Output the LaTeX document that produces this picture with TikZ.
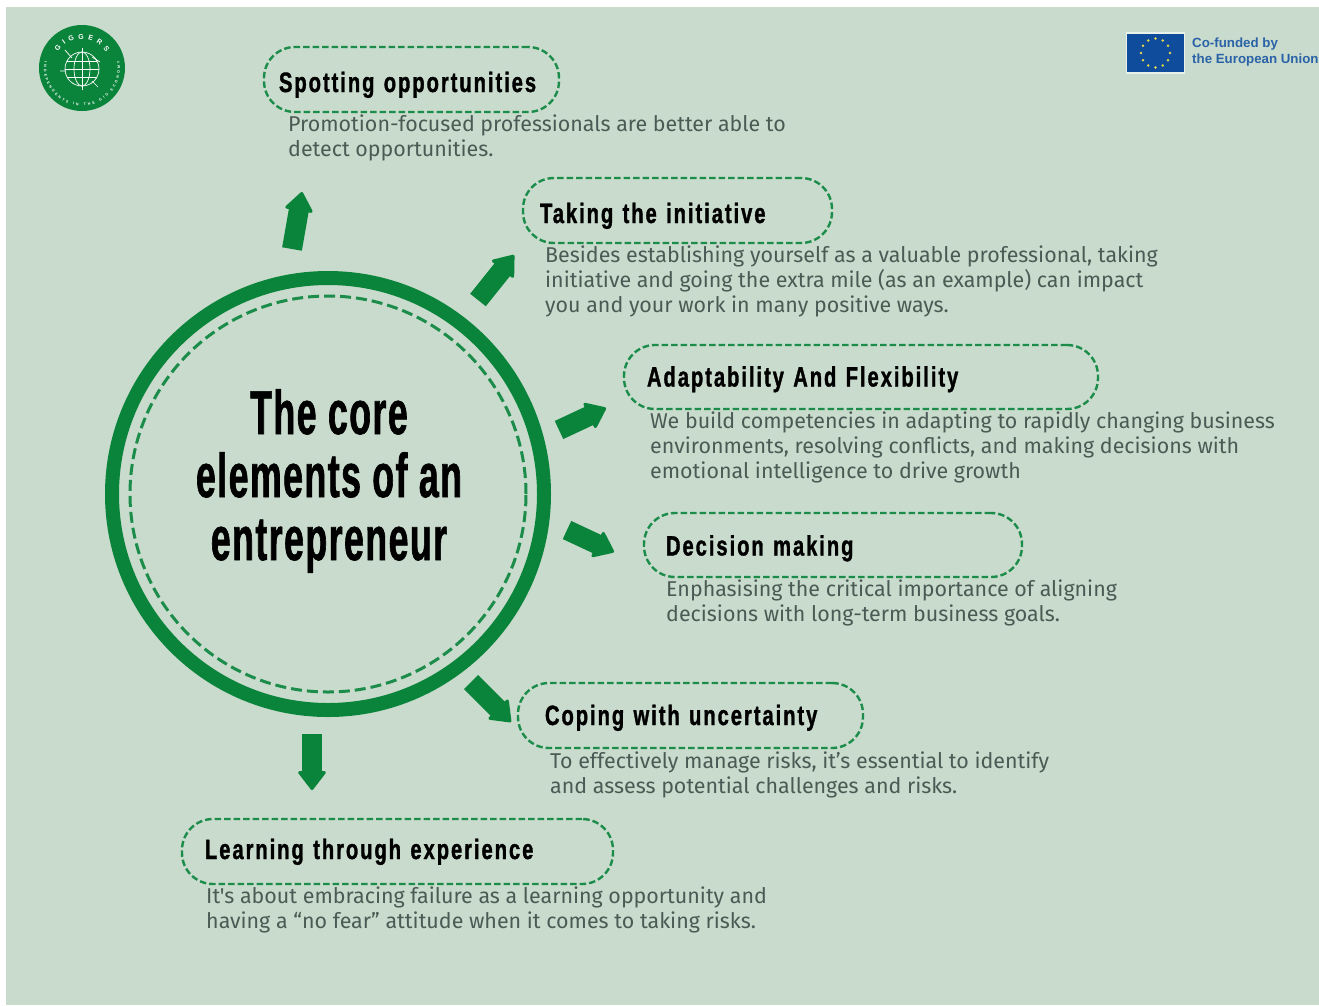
\documentclass[tikz,border=0pt]{standalone}
\usepackage{fontspec}
\usetikzlibrary{arrows.meta,decorations.text,calc}
\setmainfont{Fira Sans}
\newfontfamily\condfont[FakeStretch=0.72,UprightFont=* Bold,LetterSpace=7,FakeBold=1.2]{Liberation Sans}
\newfontfamily\condbig[FakeStretch=0.575,UprightFont=* Bold,LetterSpace=2.4,FakeBold=1]{Liberation Sans}
\newfontfamily\bodyfont{Fira Sans}
\newfontfamily\eufont[UprightFont=* Bold]{Liberation Sans}
\definecolor{bgc}{HTML}{C8DBCC}
\definecolor{grn}{HTML}{0A843B}
\definecolor{dashc}{HTML}{1B8C4A}
\definecolor{bodyc}{HTML}{4C5A55}
\definecolor{eub}{HTML}{0F4C9C}
\definecolor{euy}{HTML}{E6D94A}
\definecolor{eut}{HTML}{2A62A8}
\tikzset{
  pillbox/.style={draw=dashc,line width=2.4pt,dash pattern=on 6.5pt off 3pt,rounded corners=31pt,
    minimum height=#1,inner ysep=0pt,align=left,text=black,text height=30pt,
    font=\condfont\fontsize{28}{30}\selectfont},
  bodytext/.style={anchor=north west,inner sep=0pt,align=left,text=bodyc,
    font=\bodyfont\fontsize{21.42}{25}\selectfont},
  blockarrow/.style={draw=grn,fill=none,line width=20pt,line cap=butt,
    -{Triangle[length=20pt,width=30pt,line width=3pt,round,color=grn,fill=grn]}},
  euline/.style={anchor=west,inner sep=0pt,text=eut,font=\eufont\fontsize{13.3}{14}\selectfont},
}
% \pillnode{name}{x1}{y1}{x2}{y2}{inset}{text depth}{title}
\newcommand{\pillnode}[8]{%
  \pgfmathsetmacro{\pw}{#4-#2}\pgfmathsetmacro{\ph}{#5-#3}%
  \pgfmathsetmacro{\pcx}{(#2+#4)/2}\pgfmathsetmacro{\pcy}{(#3+#5)/2}%
  \pgfmathsetmacro{\ptw}{\pw-2*#6}%
  \node[pillbox=\ph pt,inner xsep=#6pt,text width=\ptw pt,text depth=#7pt] (#1) at (\pcx,\pcy) {#8};%
}
\begin{document}
\begin{tikzpicture}[x=1pt,y=-1pt]
\useasboundingbox (0,0) rectangle (1319,1005);
\fill[white] (0,0) rectangle (1319,1005);
\fill[bgc] (6,7) rectangle (1319,1005);

% logo
\node[circle,fill=grn,minimum size=86pt,inner sep=0pt] (logo) at (82,68) {};
\begin{scope}[white,line width=.7pt]
  \draw (82,69) circle[radius=17];
  \draw (82,69) ellipse[x radius=8,y radius=17];
  \draw (65,69) -- (99,69) (82,48) -- (82,90);
  \draw (67,61) -- (97,61) (67,77) -- (97,77);
  \draw (65,50) -- (72,58) (100,62) -- (92,57) (66,71) -- (60,71) (92,81) -- (98,87);
\end{scope}
\path[decorate,decoration={text along path,text align={fit to path},
  text={|\eufont\fontsize{7}{7}\selectfont\color{white}|GIGGERS}}]
  (82,68) ++(-146:29) arc[start angle=-146,end angle=-34,radius=29];
\path[decorate,decoration={text along path,text align={fit to path},
  text={|\eufont\fontsize{3.6}{4}\selectfont\color{white}|INDEPENDENTS IN THE GIG ECONOMY}}]
  (82,68) ++(190:38) arc[start angle=190,end angle=-10,radius=38];

% EU flag
\node[draw=white!60!bgc,line width=1.2pt,fill=eub,minimum width=58pt,minimum height=40pt,inner sep=0pt] (flag) at (1155.5,53) {};
\foreach \a in {0,30,...,330} \fill[euy] (flag.center) ++(\a:14.5) circle[radius=1.4];
\node[euline] (eu1) at (1192,44.5) {Co-funded by};
\node[euline] (eu2) at (1192,60.5) {the European Union};

% core
\node[circle,draw=grn,line width=14pt,minimum size=432pt,inner sep=0pt] (core) at (328,494) {};
\node[circle,draw=dashc,line width=3pt,dash pattern=on 11pt off 5pt,minimum size=396pt,inner sep=0pt] (coreinner) at (328,494) {};
\node[align=center,inner sep=0pt,font=\condbig\fontsize{62}{63}\selectfont,text=black] (title) at (329,481)
  {The core\\elements of an\\entrepreneur};

% pills
\pillnode{p1}{264}{47}{559}{112}{15}{5}{Spotting opportunities}
\pillnode{p2}{523}{178}{832}{243}{17}{5}{Taking the initiative}
\pillnode{p3}{624}{345}{1098}{409}{23}{11}{Adaptability And Flexibility}
\pillnode{p4}{644}{513}{1022}{577}{22}{9}{Decision making}
\pillnode{p5}{518}{683}{863}{748}{27}{11}{Coping with uncertainty}
\pillnode{p6}{182}{819}{613}{884}{23}{15}{Learning through experience}

% body texts
\node[bodytext] (t1) at (288,115) {Promotion-focused professionals are better able to\\detect opportunities.};
\node[bodytext] (t2) at (545,246) {Besides establishing yourself as a valuable professional, taking\\initiative and going the extra mile (as an example) can impact\\you and your work in many positive ways.};
\node[bodytext] (t3) at (650,412) {We build competencies in adapting to rapidly changing business\\environments, resolving conflicts, and making decisions with\\emotional intelligence to drive growth};
\node[bodytext] (t4) at (666,580) {Enphasising the critical importance of aligning\\decisions with long-term business goals.};
\node[bodytext] (t5) at (550,752) {To effectively manage risks, it’s essential to identify\\and assess potential challenges and risks.};
\node[bodytext] (t6) at (206,887) {It's about embracing failure as a learning opportunity and\\having a “no fear” attitude when it comes to taking risks.};

% block arrows
\coordinate (a1s) at (292,249); \coordinate (a1e) at (302,192);
\coordinate (a2s) at (478,300); \coordinate (a2e) at (514,255);
\coordinate (a3s) at (559,430); \coordinate (a3e) at (606,408);
\coordinate (a4s) at (567,530); \coordinate (a4e) at (614,552);
\coordinate (a5s) at (471,682); \coordinate (a5e) at (511,722);
\coordinate (a6s) at (312,734); \coordinate (a6e) at (312,790);
\foreach \i in {1,...,6} \draw[blockarrow] (a\i s) -- (a\i e);
\end{tikzpicture}
\end{document}
